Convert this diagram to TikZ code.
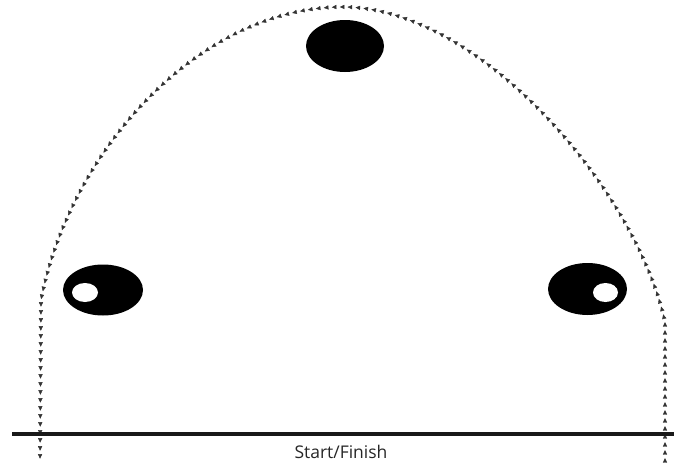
\documentclass[tikz,border=0pt]{standalone}
\usepackage{fontspec}
\setmainfont{Open Sans}
\usetikzlibrary{decorations.markings,arrows.meta}
\tikzset{
  trackmarks/.style={
    decoration={markings,
      mark=between positions 0.004 and 1 step 8pt with {\arrow[color=black!80]{Triangle[length=4.6pt,width=4.2pt]}}},
    postaction={decorate}},
  baseline/.style={line width=3.5pt, black!90},
  pylon/.style={fill=black},
  hole/.style={fill=white},
  label/.style={font=\fontsize{17.5}{20}\selectfont, text=black!85, inner sep=0pt}
}
\begin{document}
\begin{tikzpicture}[x=1pt,y=-1pt]
\useasboundingbox (0,0) rectangle (674,463);
% track
\path[trackmarks] (665,463) -- (665,322)
   .. controls (636,190) and (480,7) .. (343,7)
   .. controls (200,7) and (70,150) .. (41,300) -- (40,463);
% start/finish line
\coordinate (lineL) at (12,434);
\coordinate (lineR) at (674,434);
\draw[baseline] (lineL) -- (lineR);
\node[label] (sf) at (341,452) {Start/Finish};
% top pylon
\fill[pylon] (345,46) ellipse [x radius=39, y radius=26];
% left pylon
\fill[pylon] (103,290) ellipse [x radius=40, y radius=25.5];
\fill[hole] (85,292.5) ellipse [x radius=13, y radius=9.5];
% right pylon
\fill[pylon] (587.5,289) ellipse [x radius=39.5, y radius=26];
\fill[hole] (605.5,292.5) ellipse [x radius=12.5, y radius=9.5];
\end{tikzpicture}
\end{document}
